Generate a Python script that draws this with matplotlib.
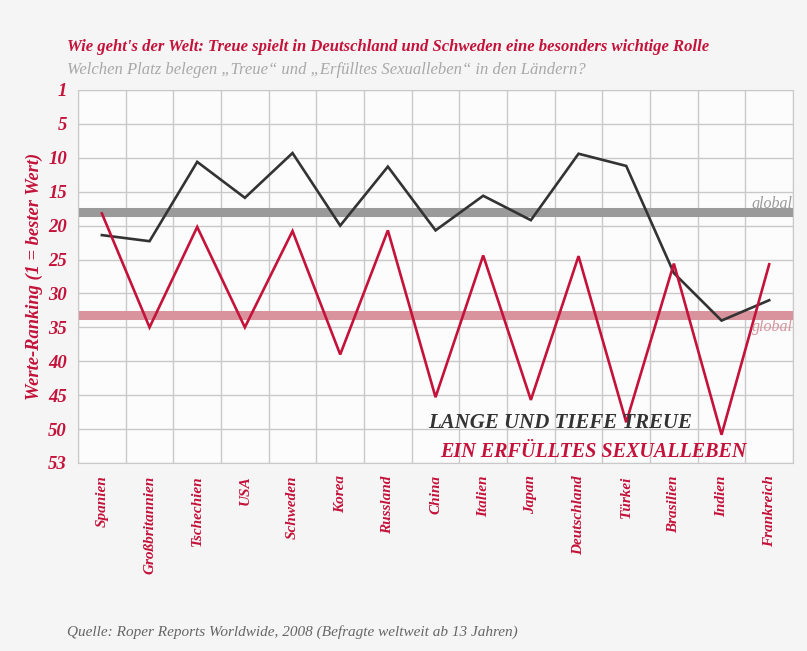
import numpy as np
import matplotlib
matplotlib.use("Agg")
import matplotlib.pyplot as plt

# ranking values (1 = best)
countries = ["Spanien", "Großbritannien", "Tschechien", "USA", "Schweden", "Korea",
             "Russland", "China", "Italien", "Japan", "Deutschland", "Türkei",
             "Brasilien", "Indien", "Frankreich"]
treue = [21.4, 22.3, 10.6, 15.9, 9.3, 20.0, 11.3, 20.7, 15.6, 19.2, 9.4, 11.2, 27.0, 34.0, 31.0]
sexualleben = [18.2, 35.0, 20.2, 35.0, 20.8, 39.0, 20.7, 45.3, 24.4, 45.7, 24.5, 49.0, 25.6, 50.5, 25.7]
global_treue = 18.0
global_sex = 33.2
rank_ticks = [1, 5, 10, 15, 20, 25, 30, 35, 40, 45, 50, 53]

RED = "#c4123a"
DARK = "#333333"
SERIF = ["Liberation Serif", "DejaVu Serif"]

# the ranking axis has equally spaced gridlines, so map ranks piecewise
tick_pos = np.arange(len(rank_ticks), dtype=float)


def fwd(v):
    return np.interp(v, rank_ticks, tick_pos, left=np.nan, right=np.nan)


def inv(p):
    return np.interp(p, tick_pos, rank_ticks)


fig = plt.figure(figsize=(8.07, 6.51), dpi=100, facecolor="#f5f5f5")
ax = fig.add_axes([0.0967, 0.2888, 0.886, 0.573], facecolor="#fcfcfc")
ax.set_yscale("function", functions=(fwd, inv))

x = np.arange(len(countries))

# global reference bands
ax.axhline(global_treue, color="#9a9a9a", lw=6.5, zorder=2)
ax.axhline(global_sex, color="#d9939d", lw=6.5, zorder=2)

ax.plot(x, treue, color=DARK, lw=1.9, zorder=3, solid_joinstyle="miter")
ax.plot(x, sexualleben, color=RED, lw=1.9, zorder=3, solid_joinstyle="miter")

ax.set_xlim(-0.5, len(countries) - 0.5)
ax.set_ylim(53, 1)

ax.set_yticks(rank_ticks)
ax.set_yticklabels([str(t) for t in rank_ticks], family=SERIF, style="italic",
                   weight="bold", color=RED, fontsize=13.5)
ax.set_xticks(x)
ax.set_xticklabels(countries, rotation=90, va="top", ha="center", family=SERIF,
                   style="italic", weight="bold", color=RED, fontsize=11)
ax.set_xticks(np.arange(-0.5, len(countries)), minor=True)
ax.tick_params(axis="both", which="both", length=0)
ax.tick_params(axis="x", pad=9)
ax.tick_params(axis="y", pad=8)
ax.grid(True, axis="y", which="major", color="#c9c9c9", lw=1)
ax.grid(True, axis="x", which="minor", color="#c9c9c9", lw=1)
ax.set_axisbelow(True)
for s in ax.spines.values():
    s.set_color("#c9c9c9")

ax.set_ylabel("Werte-Ranking (1 = bester Wert)", family=SERIF, style="italic",
              weight="bold", color=RED, fontsize=13.3, labelpad=4)

# labels for the global lines
ax.text(1.0, global_treue, "global", transform=ax.get_yaxis_transform(), ha="right",
        va="bottom", family=SERIF, style="italic", color="#9a9a9a", fontsize=11.5)
ax.text(1.0, global_sex + 0.6, "global", transform=ax.get_yaxis_transform(), ha="right",
        va="top", family=SERIF, style="italic", color="#d9939d", fontsize=11.5)

# legend texts
ax.text(0.49, 0.107, "LANGE UND TIEFE TREUE", transform=ax.transAxes, ha="left",
        va="center", family=SERIF, style="italic", weight="bold", color=DARK, fontsize=15)
ax.text(0.506, 0.03, "EIN ERFÜLLTES SEXUALLEBEN", transform=ax.transAxes, ha="left",
        va="center", family=SERIF, style="italic", weight="bold", color=RED, fontsize=14.5)

fig.text(0.083, 0.928, "Wie geht's der Welt: Treue spielt in Deutschland und Schweden eine besonders wichtige Rolle",
         family=SERIF, style="italic", weight="bold", color=RED, fontsize=12, va="center")
fig.text(0.083, 0.892, "Welchen Platz belegen „Treue“ und „Erfülltes Sexualleben“ in den Ländern?",
         family=SERIF, style="italic", color="#a8a8a8", fontsize=12, va="center")
fig.text(0.083, 0.029, "Quelle: Roper Reports Worldwide, 2008 (Befragte weltweit ab 13 Jahren)",
         family=SERIF, style="italic", color="#666666", fontsize=11, va="center")

fig.savefig("out.png", dpi=100, facecolor=fig.get_facecolor())
